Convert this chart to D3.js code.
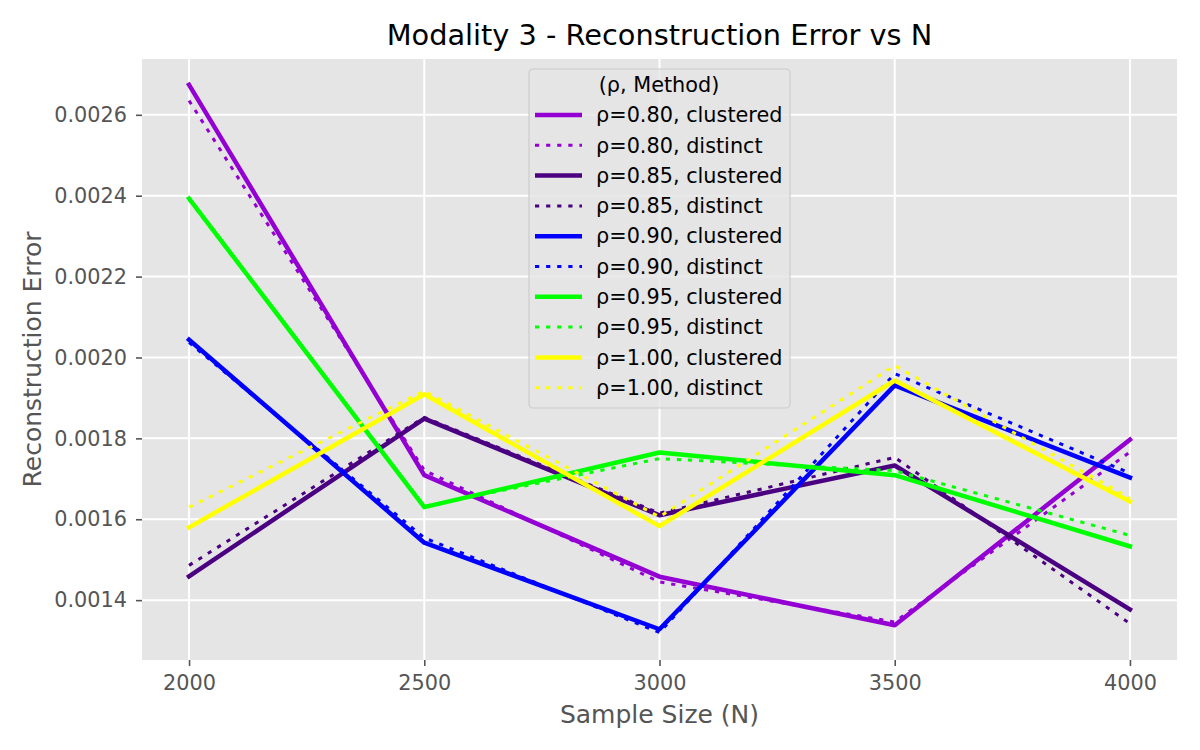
<!DOCTYPE html>
<html>
<head>
<meta charset="utf-8">
<title>Modality 3 - Reconstruction Error vs N</title>
<script src="https://d3js.org/d3.v7.min.js"></script>
<style>
    body { margin: 0; background: #fff; }
    text { font-family: "DejaVu Sans", sans-serif; }
</style>
</head>
<body>
<div id="chart"></div>
<script>
// data
var sampleSizes = [2000, 2500, 3000, 3500, 4000];
var rhoLabels = ["0.80", "0.85", "0.90", "0.95", "1.00"];
var rhoColors = ["#9400D3", "#4B0082", "#0000FF", "#00FF00", "#FFFF00"];
var methods = ["clustered", "distinct"];

var clustered080 = [0.002674, 0.001709, 0.001458, 0.001338, 0.001797];
var distinct080  = [0.002635, 0.001721, 0.001445, 0.001346, 0.001766];
var clustered085 = [0.001459, 0.001849, 0.001610, 0.001733, 0.001377];
var distinct085  = [0.001486, 0.001852, 0.001615, 0.001753, 0.001342];
var clustered090 = [0.002044, 0.001542, 0.001328, 0.001931, 0.001703];
var distinct090  = [0.002037, 0.001554, 0.001320, 0.001960, 0.001714];
var clustered095 = [0.002393, 0.001630, 0.001765, 0.001709, 0.001533];
var distinct095  = [0.002390, 0.001632, 0.001750, 0.001720, 0.001560];
var clustered100 = [0.001580, 0.001909, 0.001583, 0.001943, 0.001644];
var distinct100  = [0.001630, 0.001917, 0.001606, 0.001980, 0.001652];

var xTicks = [2000, 2500, 3000, 3500, 4000];
var yTicks = [0.0014, 0.0016, 0.0018, 0.0020, 0.0022, 0.0024, 0.0026];

var valuesByRho = [
    [clustered080, distinct080],
    [clustered085, distinct085],
    [clustered090, distinct090],
    [clustered095, distinct095],
    [clustered100, distinct100]
];

var series = [];
rhoLabels.forEach(function(r, i) {
    methods.forEach(function(m, j) {
        series.push({
            label: "ρ=" + r + ", " + m,
            color: rhoColors[i],
            method: m,
            values: valuesByRho[i][j]
        });
    });
});

var W = 1200, H = 750;
var margin = {top: 59, right: 23, bottom: 90, left: 142};
var width = W - margin.left - margin.right;
var height = H - margin.top - margin.bottom;

var x = d3.scaleLinear().domain([1900, 4100]).range([0, width]);
var y = d3.scaleLinear().domain([0.001252, 0.002738]).range([height, 0]);

var svg = d3.select("#chart").append("svg")
    .attr("width", W)
    .attr("height", H);

var g = svg.append("g")
    .attr("transform", "translate(" + margin.left + "," + margin.top + ")");

g.append("rect")
    .attr("width", width)
    .attr("height", height)
    .attr("fill", "#E5E5E5");

// grid
g.selectAll(".gx").data(xTicks).enter().append("line")
    .attr("x1", function(d) { return x(d); })
    .attr("x2", function(d) { return x(d); })
    .attr("y1", 0).attr("y2", height)
    .attr("stroke", "#fff").attr("stroke-width", 2);
g.selectAll(".gy").data(yTicks).enter().append("line")
    .attr("y1", function(d) { return y(d); })
    .attr("y2", function(d) { return y(d); })
    .attr("x1", 0).attr("x2", width)
    .attr("stroke", "#fff").attr("stroke-width", 2);

// axes
var xAxis = g.append("g")
    .attr("transform", "translate(0," + height + ")")
    .call(d3.axisBottom(x).tickValues(xTicks).tickSize(6).tickPadding(9).tickFormat(d3.format("d")));
var yAxis = g.append("g")
    .call(d3.axisLeft(y).tickValues(yTicks).tickSize(6).tickPadding(9).tickFormat(d3.format(".4f")));

[xAxis, yAxis].forEach(function(a) {
    a.select(".domain").remove();
    a.selectAll(".tick line").attr("stroke", "#555555").attr("stroke-width", 1.6);
    a.selectAll(".tick text")
        .attr("fill", "#555555")
        .style("font-family", "'DejaVu Sans', sans-serif")
        .style("font-size", "20.8px");
});

// lines
var line = d3.line()
    .x(function(d, i) { return x(sampleSizes[i]); })
    .y(function(d) { return y(d); });

g.selectAll(".series").data(series).enter().append("path")
    .attr("d", function(d) { return line(d.values); })
    .attr("fill", "none")
    .attr("stroke", function(d) { return d.color; })
    .attr("stroke-width", function(d) { return d.method === "clustered" ? 4.5 : 3; })
    .attr("stroke-dasharray", function(d) { return d.method === "clustered" ? null : "4.2,6.9"; })
    .attr("stroke-linejoin", "round")
    .attr("stroke-linecap", function(d) { return d.method === "clustered" ? "square" : "butt"; });

// legend
var lx = 529 - margin.left, ly = 69 - margin.top;
var legend = g.append("g").attr("transform", "translate(" + lx + "," + ly + ")");
legend.append("rect")
    .attr("width", 261).attr("height", 339)
    .attr("rx", 4)
    .attr("fill", "#E5E5E5").attr("fill-opacity", 0.8)
    .attr("stroke", "#CCCCCC").attr("stroke-width", 1.2);
legend.append("text")
    .attr("x", 130).attr("y", 16)
    .attr("dy", "0.35em")
    .attr("text-anchor", "middle")
    .style("font-size", "20.8px")
    .attr("fill", "#000")
    .text("(ρ, Method)");

var items = legend.selectAll(".item").data(series).enter().append("g")
    .attr("transform", function(d, i) { return "translate(0," + (46 + i * 30.3) + ")"; });
items.append("line")
    .attr("x1", 6).attr("x2", 53)
    .attr("stroke", function(d) { return d.color; })
    .attr("stroke-width", function(d) { return d.method === "clustered" ? 4.5 : 3; })
    .attr("stroke-dasharray", function(d) { return d.method === "clustered" ? null : "4.2,6.9"; });
items.append("text")
    .attr("x", 67).attr("dy", "0.35em")
    .style("font-size", "20.8px")
    .attr("fill", "#000")
    .text(function(d) { return d.label; });

// title and labels
svg.append("text")
    .attr("x", margin.left + width / 2).attr("y", 35)
    .attr("dy", "0.35em")
    .attr("text-anchor", "middle")
    .style("font-size", "28.8px")
    .attr("fill", "#000")
    .text("Modality 3 - Reconstruction Error vs N");

svg.append("text")
    .attr("x", margin.left + width / 2).attr("y", 714)
    .attr("dy", "0.35em")
    .attr("text-anchor", "middle")
    .style("font-size", "25px")
    .attr("fill", "#555555")
    .text("Sample Size (N)");

svg.append("text")
    .attr("transform", "translate(32," + (margin.top + height / 2) + ") rotate(-90)")
    .attr("dy", "0.35em")
    .attr("text-anchor", "middle")
    .style("font-size", "25px")
    .attr("fill", "#555555")
    .text("Reconstruction Error");
</script>
</body>
</html>
